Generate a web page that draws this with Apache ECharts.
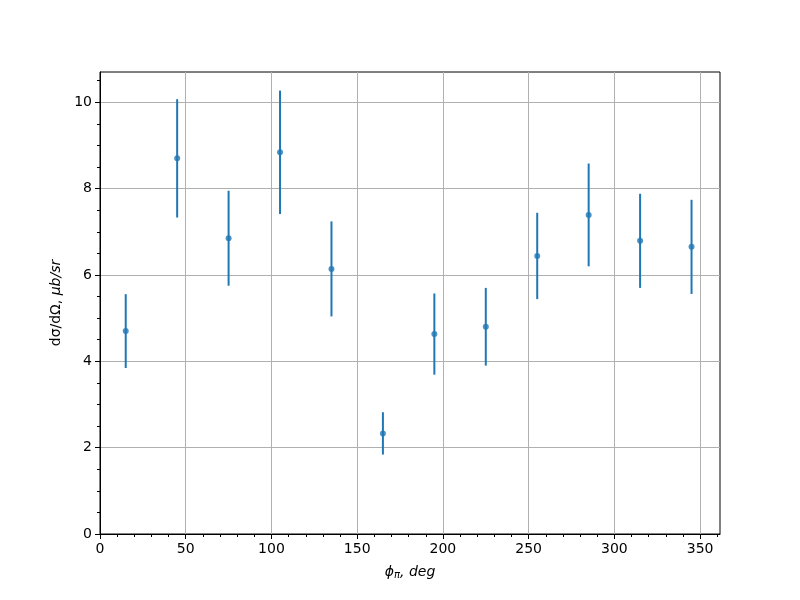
<!DOCTYPE html>
<html><head><meta charset="utf-8">
<script src="https://cdn.jsdelivr.net/npm/echarts@6/dist/echarts.min.js"></script>
<style>html,body{margin:0;padding:0;background:#fff}#c{width:800px;height:600px}</style>
</head><body><div id="c"></div>
<script>
const phi = [15, 45, 75, 105, 135, 165, 195, 225, 255, 285, 315, 345];
const xsec = [4.70, 8.70, 6.85, 8.84, 6.14, 2.33, 4.63, 4.80, 6.44, 7.39, 6.79, 6.65];
const xsecErr = [0.855, 1.37, 1.10, 1.43, 1.10, 0.49, 0.94, 0.90, 1.00, 1.19, 1.09, 1.09];
const xMajor = [0, 50, 100, 150, 200, 250, 300, 350];
const xMinor = [10,20,30,40,60,70,80,90,110,120,130,140,160,170,180,190,210,220,230,240,260,270,280,290,310,320,330,340,360];
const yMajor = [0, 2, 4, 6, 8, 10];
const yMinor = [0.5,1,1.5,2.5,3,3.5,4.5,5,5.5,6.5,7,7.5,8.5,9,9.5,10.5];
const X_MAX = 361.6, Y_MAX = 10.70;

const font = 'DejaVu Sans';
const chart = echarts.init(document.getElementById('c'));
const lbl = {color:'#000', fontFamily:font, fontSize:14};
chart.setOption({
  animation:false,
  backgroundColor:'#fff',
  grid:{left:100,right:80,top:72,bottom:66,show:true,borderColor:'#000',borderWidth:1,backgroundColor:'transparent'},
  xAxis:[{
    type:'value', min:0, max:X_MAX,
    axisLine:{show:true,lineStyle:{color:'#000',width:1}},
    axisTick:{show:true,length:5,lineStyle:{color:'#000',width:1},customValues:xMajor},
    axisLabel:Object.assign({margin:8,customValues:xMajor},lbl),
    splitLine:{show:true,lineStyle:{color:'#b0b0b0',width:1}},
    name:'{i|ϕ}{s|π}{i|, deg}', nameLocation:'middle', nameGap:30,
    nameTextStyle:{rich:{i:{fontFamily:font,fontSize:14,fontStyle:'italic',color:'#000'},s:{fontFamily:font,fontSize:10,fontStyle:'italic',color:'#000',verticalAlign:'bottom',padding:[6,0,0,0]}}}
  },{
    type:'value', min:0, max:X_MAX, position:'bottom',
    axisLine:{show:false}, splitLine:{show:false},
    axisTick:{show:true,length:3,lineStyle:{color:'#000',width:1},customValues:xMinor},
    axisLabel:{show:false}
  }],
  yAxis:[{
    type:'value', min:0, max:Y_MAX,
    axisLine:{show:true,lineStyle:{color:'#000',width:1}},
    axisTick:{show:true,length:5,lineStyle:{color:'#000',width:1},customValues:yMajor},
    axisLabel:Object.assign({margin:8,customValues:yMajor},lbl),
    splitLine:{show:true,lineStyle:{color:'#b0b0b0',width:1}},
    name:'{n|dσ/dΩ, }{i|μb/sr}', nameLocation:'middle', nameGap:36, nameRotate:90,
    nameTextStyle:{rich:{n:{fontFamily:font,fontSize:14,color:'#000'},i:{fontFamily:font,fontSize:14,fontStyle:'italic',color:'#000'}}}
  },{
    type:'value', min:0, max:Y_MAX, position:'left',
    axisLine:{show:false}, splitLine:{show:false},
    axisTick:{show:true,length:3,lineStyle:{color:'#000',width:1},customValues:yMinor},
    axisLabel:{show:false}
  }],
  series:[{
    type:'custom',
    xAxisIndex:0, yAxisIndex:0,
    data: phi.map((x,i)=>[x, xsec[i]-xsecErr[i], xsec[i]+xsecErr[i]]),
    renderItem:function(params, api){
      const p1 = api.coord([api.value(0), api.value(1)]);
      const p2 = api.coord([api.value(0), api.value(2)]);
      return {type:'line', shape:{x1:p1[0],y1:p1[1],x2:p2[0],y2:p2[1]}, style:{stroke:'#1f77b4',lineWidth:2}};
    },
    z:3
  },{
    type:'scatter',
    xAxisIndex:0, yAxisIndex:0,
    data: phi.map((x,i)=>[x, xsec[i]]),
    symbol:'circle', symbolSize:6,
    itemStyle:{color:'#1f77b4'},
    z:4
  }]
});
</script></body></html>
